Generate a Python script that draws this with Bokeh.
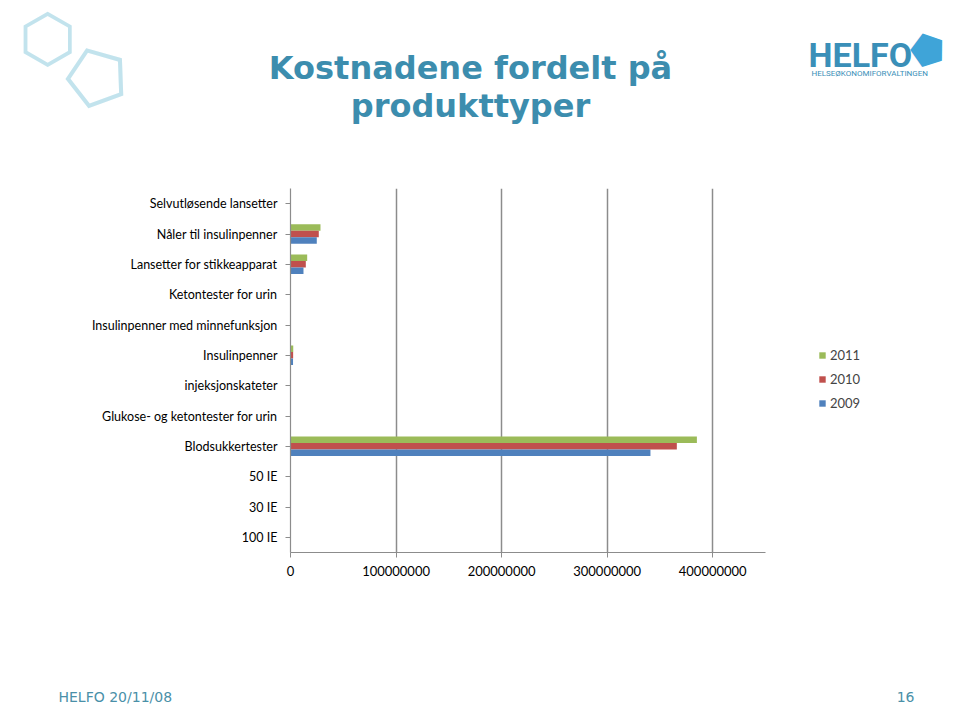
from bokeh.plotting import figure
from bokeh.models import (Range1d, FactorRange, FixedTicker, BasicTickFormatter,
                          Legend, LegendItem, ColumnDataSource, Label)
from bokeh.transform import dodge
from bokeh.embed import file_html
from bokeh.resources import INLINE

# ---------------- data ----------------
categories = ["Selvutløsende lansetter", "Nåler til insulinpenner",
              "Lansetter for stikkeapparat", "Ketontester for urin",
              "Insulinpenner med minnefunksjon", "Insulinpenner",
              "injeksjonskateter", "Glukose- og ketontester for urin",
              "Blodsukkertester", "50 IE", "30 IE", "100 IE"]
cost_2009 = [0, 24.9e6, 12.3e6, 0, 0, 2.4e6, 0, 0, 341e6, 0, 0, 0]
cost_2010 = [0, 26.8e6, 14.5e6, 0, 0, 2.5e6, 0, 0, 366e6, 0, 0, 0]
cost_2011 = [0, 28.4e6, 15.8e6, 0, 0, 2.6e6, 0, 0, 385e6, 0, 0, 0]
years = ["2011", "2010", "2009"]
x_ticks = [0, 100000000, 200000000, 300000000, 400000000]
x_max = 450000000

title_lines = ["Kostnadene fordelt på", "produkttyper"]
logo_name = "HELFO"
logo_sub = "HELSEØKONOMIFORVALTINGEN"
footer_left = "HELFO 20/11/08"
footer_right = "16"

TEAL = "#3C8DAE"
GREEN, RED, BLUE = "#9BBB59", "#C0504D", "#4F81BD"
GRID = "#8C8C8C"
DECO = "#C2E3ED"

FL, FT, FB = 290, 188, 552
AXIS_RIGHT = 765

src = ColumnDataSource(dict(cat=categories, c2009=cost_2009, c2010=cost_2010,
                            c2011=cost_2011))

p = figure(width=960, height=706, y_range=FactorRange(factors=categories[::-1]),
           x_range=Range1d(0, x_max * (960 - FL) / (AXIS_RIGHT - FL)),
           toolbar_location=None, output_backend="svg",
           min_border_left=FL, min_border_right=0, min_border_top=FT,
           min_border_bottom=706 - FB)
p.outline_line_color = None
p.background_fill_color = "white"
p.border_fill_color = "white"

bh = 0.215
r11 = p.hbar(y=dodge("cat", bh, range=p.y_range), right="c2011", left=0, height=bh,
             source=src, fill_color=GREEN, line_color=None)
r10 = p.hbar(y=dodge("cat", 0, range=p.y_range), right="c2010", left=0, height=bh,
             source=src, fill_color=RED, line_color=None)
r09 = p.hbar(y=dodge("cat", -bh, range=p.y_range), right="c2009", left=0, height=bh,
             source=src, fill_color=BLUE, line_color=None)

p.xaxis.ticker = FixedTicker(ticks=x_ticks)
p.xaxis.formatter = BasicTickFormatter(use_scientific=False)
p.xaxis.bounds = (0, x_max)
p.xaxis.major_label_text_font = "Lato"
p.xaxis.major_label_text_font_size = "13px"
p.xaxis.major_label_text_color = "#000000"
p.xaxis.major_label_standoff = 8
p.xaxis.major_tick_out = 5
p.xaxis.major_tick_in = 0
p.xaxis.minor_tick_line_color = None

p.yaxis.major_label_text_font = "Lato"
p.yaxis.major_label_text_font_size = "12.5px"
p.yaxis.major_label_text_color = "#000000"
p.yaxis.major_label_standoff = 8
p.yaxis.major_tick_out = 5
p.yaxis.major_tick_in = 0

for ax in (p.xaxis, p.yaxis):
    ax.axis_line_color = GRID
    ax.major_tick_line_color = GRID
    ax.axis_line_width = 1.2

p.xgrid.ticker = FixedTicker(ticks=x_ticks)
p.xgrid.grid_line_color = GRID
p.xgrid.grid_line_width = 1.5
p.ygrid.grid_line_color = None

legend = Legend(items=[LegendItem(label=years[0], renderers=[r11]),
                       LegendItem(label=years[1], renderers=[r10]),
                       LegendItem(label=years[2], renderers=[r09])],
                location=(818 - FL, 141), orientation="vertical")
legend.glyph_width = 8
legend.glyph_height = 8
legend.label_text_font = "Lato"
legend.label_text_font_size = "13px"
legend.label_height = 16
legend.label_standoff = 4
legend.spacing = 8
legend.padding = 0
legend.margin = 0
legend.border_line_color = None
legend.background_fill_alpha = 0
p.add_layout(legend, "center")


# ---------------- slide texts, placed in the border panels ----------------
def lbl(side, x, y, txt, size, color, font="DejaVu Sans", style="normal",
        align="left", angle=0.0):
    p.add_layout(Label(x=x, y=y, x_units="screen", y_units="screen", text=txt,
                       text_align=align, text_baseline="middle", text_font=font,
                       text_font_size=size, text_font_style=style,
                       text_color=color, angle=angle), side)


# above panel (stacked outward from the frame)
lbl("above", 470 - FL, 83, title_lines[1], "32px", TEAL, style="bold", align="center")
lbl("above", 470 - FL, 83, title_lines[0], "32px", TEAL, style="bold", align="center")
lbl("above", 808 - FL, 58, logo_name, "34px", "#3A8FB8", font="Roboto", style="bold")
lbl("above", 811 - FL, -1, logo_sub, "8px", "#3A8FB8", font="Roboto")
lbl("above", 927 - FL, 14, "⬟", "40px", "#3FA4D8", align="center", angle=0.3)

# below panel (after the x axis)
lbl("below", 58 - FL, -102, footer_left, "14px", "#4A90A8")
lbl("below", 914 - FL, -92, footer_right, "14px", "#4A90A8", align="right")
lbl("below", 47 - FL, 643, "⬡", "66px", DECO, align="center")

# left panel (after the y axis)
lbl("left", 96, 476, "⬠", "72px", DECO, align="center", angle=0.35)

open("out.html", "w").write(file_html(p, INLINE))
